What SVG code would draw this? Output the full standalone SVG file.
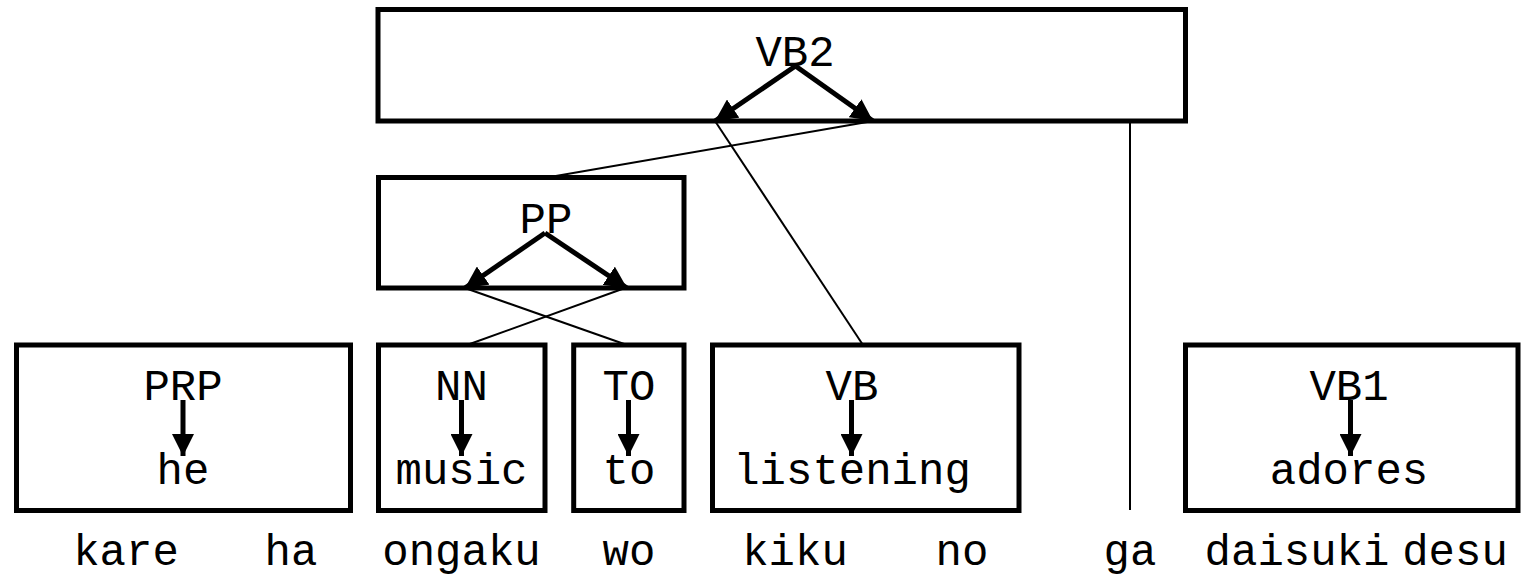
<svg xmlns="http://www.w3.org/2000/svg" width="1525" height="575" viewBox="0 0 1525 575">
<style>
.box{fill:#fff;stroke:#000;stroke-width:5}
.t{font-family:"Liberation Mono","Courier New",monospace;font-size:44px;fill:#000;text-anchor:middle}
.arr{stroke:#000;stroke-width:5;fill:none;marker-end:url(#ah)}
.con{stroke:#000;stroke-width:2;fill:none}
</style>
<defs>
<marker id="ah" markerUnits="userSpaceOnUse" markerWidth="24" markerHeight="22" viewBox="0 0 24 22" refX="22" refY="11" orient="auto">
<path d="M0,0 L22,11 L0,22 z" fill="#000"/>
</marker>
</defs>
<g id="node-VB2">
<rect class="box" x="378" y="9.5" width="807.5" height="111.5"/>
<text class="t" x="795" y="66">VB2</text>
</g>
<g id="node-PP">
<rect class="box" x="378.5" y="177.5" width="305.5" height="110.5"/>
<text class="t" x="546" y="233">PP</text>
</g>
<g id="node-PRP">
<rect class="box" x="16.5" y="345" width="334" height="165.5"/>
<text class="t" x="183" y="400">PRP</text>
<text class="t" x="183" y="484">he</text>
</g>
<g id="node-NN">
<rect class="box" x="378.5" y="345" width="166.5" height="165.5"/>
<text class="t" x="461.5" y="400">NN</text>
<text class="t" x="461.5" y="484">music</text>
</g>
<g id="node-TO">
<rect class="box" x="573.7" y="345" width="110.3" height="165.5"/>
<text class="t" x="629" y="400">TO</text>
<text class="t" x="629" y="484">to</text>
</g>
<g id="node-VB">
<rect class="box" x="712.5" y="345" width="306.5" height="165.5"/>
<text class="t" x="852" y="400">VB</text>
<text class="t" x="852" y="484">listening</text>
</g>
<g id="node-VB1">
<rect class="box" x="1185.5" y="345" width="332.5" height="165.5"/>
<text class="t" x="1349" y="400">VB1</text>
<text class="t" x="1349" y="484">adores</text>
</g>
<g id="connectors">
<line class="arr" x1="795.5" y1="66" x2="715" y2="121"/>
<line class="arr" x1="795.5" y1="66" x2="873" y2="121"/>
<line class="arr" x1="545" y1="233" x2="465" y2="288"/>
<line class="arr" x1="545" y1="233" x2="627" y2="288"/>
<line class="arr" x1="183" y1="400" x2="183" y2="456"/>
<line class="arr" x1="461.5" y1="400" x2="461.5" y2="456"/>
<line class="arr" x1="628.5" y1="400" x2="628.5" y2="456"/>
<line class="arr" x1="851.5" y1="400" x2="851.5" y2="456"/>
<line class="arr" x1="1350.5" y1="400" x2="1350.5" y2="456"/>
<line class="con" x1="873" y1="121" x2="550" y2="177"/>
<line class="con" x1="715" y1="121" x2="863" y2="345"/>
<line class="con" x1="465" y1="288" x2="627" y2="345"/>
<line class="con" x1="625" y1="288" x2="467" y2="345"/>
<line class="con" x1="1130" y1="121" x2="1130" y2="510"/>
</g>
<g id="words">
<text class="t" x="126" y="565">kare</text>
<text class="t" x="291" y="565">ha</text>
<text class="t" x="461.5" y="565">ongaku</text>
<text class="t" x="629" y="565">wo</text>
<text class="t" x="795" y="565">kiku</text>
<text class="t" x="962" y="565">no</text>
<text class="t" x="1130" y="565">ga</text>
<text class="t" x="1297" y="565">daisuki</text>
<text class="t" x="1455" y="565">desu</text>
</g>
</svg>
